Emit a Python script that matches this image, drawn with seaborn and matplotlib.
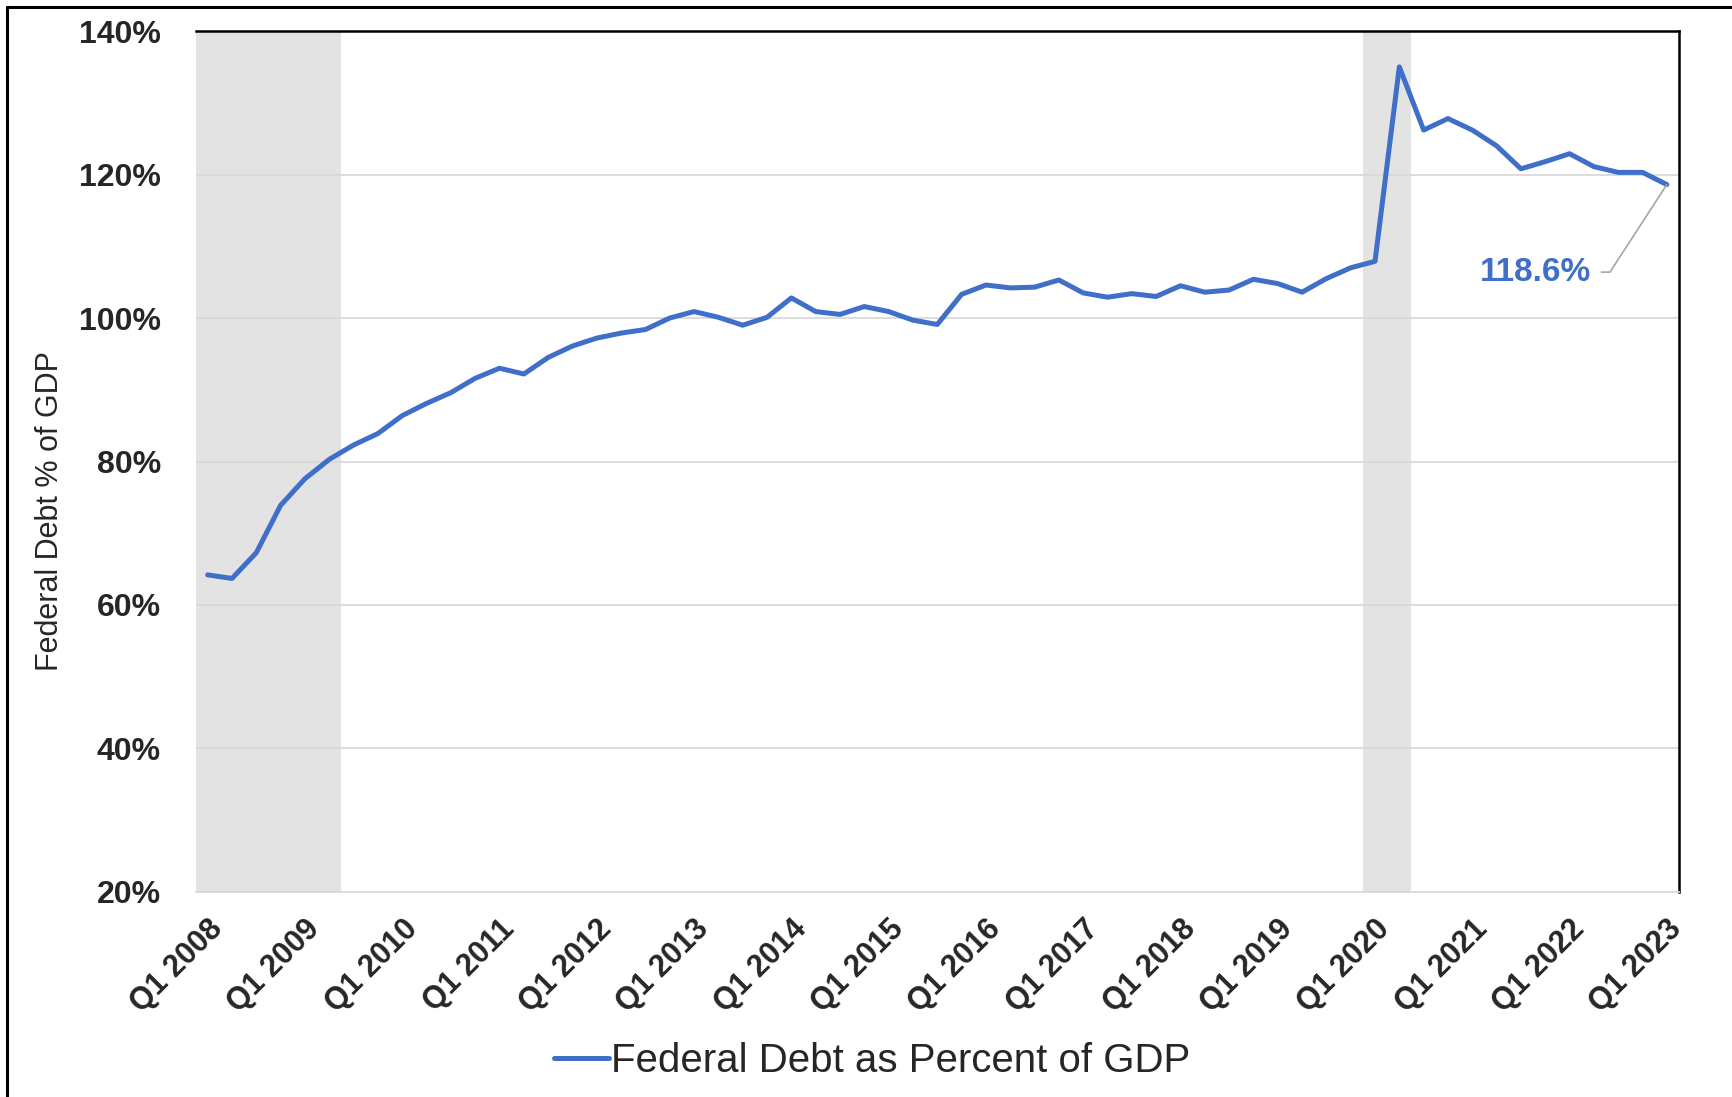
import numpy as np
import pandas as pd
import matplotlib
matplotlib.use("Agg")
import matplotlib.pyplot as plt
import seaborn as sns
from matplotlib.lines import Line2D
from matplotlib.ticker import FixedLocator

# -----------------------------
# DATA
# -----------------------------
years = list(range(2008, 2024))
quarters = [f"Q{q} {y}" for y in years for q in range(1, 5)][:61]

debt_pct = [
    64.2, 63.7, 67.3, 73.9, 77.6, 80.3, 82.3, 83.9,
    86.4, 88.1, 89.6, 91.6, 93.0, 92.2, 94.5, 96.1,
    97.2, 97.9, 98.4, 100.0, 100.9, 100.1, 99.0, 100.1,
    102.8, 100.9, 100.5, 101.6, 100.9, 99.7, 99.1, 103.3,
    104.6, 104.2, 104.3, 105.3, 103.5, 102.9, 103.4, 103.0,
    104.5, 103.6, 103.9, 105.4, 104.8, 103.6, 105.5, 107.0,
    107.9, 135.0, 126.2, 127.8, 126.2, 124.0, 120.8, 121.8,
    122.9, 121.1, 120.3, 120.3, 118.6,
]

# recession shading (first and last quarter shaded)
recessions = [("Q1 2008", "Q2 2009"), ("Q1 2020", "Q2 2020")]

series_name = "Federal Debt as Percent of GDP"
y_ticks = [20, 40, 60, 80, 100, 120, 140]

df = pd.DataFrame({"idx": np.arange(len(quarters)), "quarter": quarters, "debt": debt_pct})

# -----------------------------
# STYLE
# -----------------------------
sns.set_style("white")
plt.rcParams["font.family"] = ["Liberation Sans", "DejaVu Sans"]

line_color = "#3f6fc8"
band_color = "#e3e3e3"
grid_color = "#d9d9d9"

fig = plt.figure(figsize=(17.32, 10.97), dpi=100)
ax = fig.add_axes([0.1129, 0.1869, 0.8565, 0.7848])

# recession bands
for start, end in recessions:
    ax.axvspan(quarters.index(start) - 0.5, quarters.index(end) + 0.5,
               color=band_color, lw=0, zorder=0)

sns.lineplot(data=df, x="idx", y="debt", ax=ax, color=line_color,
             linewidth=3.6, label=series_name, zorder=3)

# -----------------------------
# AXES
# -----------------------------
ax.set_xlim(-0.5, len(quarters) - 0.5)
ax.set_ylim(y_ticks[0], y_ticks[-1])

ax.set_yticks(y_ticks)
ax.set_yticklabels([f"{v}%" for v in y_ticks], fontsize=23, fontweight="bold")
ax.tick_params(axis="y", length=0, pad=25)
for v in y_ticks[1:-1]:
    ax.axhline(v, color=grid_color, lw=1.3, zorder=1)

major = list(range(0, len(quarters), 4))
ax.set_xticks(major)
ax.set_xticklabels([quarters[i] for i in major], rotation=45, ha="right",
                   rotation_mode="anchor", fontsize=22, fontweight="bold")
ax.tick_params(axis="x", which="major", length=0, pad=16)
ax.xaxis.set_minor_locator(FixedLocator([i - 0.5 for i in major[1:]]))
ax.tick_params(axis="x", which="minor", length=8, color=grid_color, width=1.2)

ax.set_xlabel("")
ax.set_ylabel("Federal Debt % of GDP", fontsize=22)
ax.yaxis.set_label_coords(-0.088, 0.4425)

ax.spines["left"].set_visible(False)
ax.spines["bottom"].set_color(grid_color)
ax.spines["bottom"].set_linewidth(1.3)
ax.spines["top"].set_color("black")
ax.spines["top"].set_linewidth(1.8)
ax.spines["right"].set_color("black")
ax.spines["right"].set_linewidth(1.8)

# last value label
last_i = len(debt_pct) - 1
ax.annotate(f"{debt_pct[-1]}%", xy=(last_i, debt_pct[-1]), xytext=(54.6, 106.4),
            ha="center", va="center", fontsize=24, fontweight="bold", color=line_color,
            arrowprops=dict(arrowstyle="-", color="#a6a6a6", lw=1.2,
                            connectionstyle="angle,angleA=0,angleB=57,rad=0",
                            relpos=(1, 0.5), shrinkA=5, shrinkB=0))

# legend
leg = ax.legend(loc="center", bbox_to_anchor=(0.5035, 0.033),
                bbox_transform=fig.transFigure, frameon=False,
                fontsize=29, handlelength=1.35, handletextpad=0.05)

# outer frame (top + left only)
fig.add_artist(Line2D([0.004, 1.0], [0.9936, 0.9936], color="black", lw=2.2,
                      transform=fig.transFigure))
fig.add_artist(Line2D([0.004, 0.004], [0.0, 0.9936], color="black", lw=2.2,
                      transform=fig.transFigure))

plt.savefig("out.png", dpi=100)
plt.close()
